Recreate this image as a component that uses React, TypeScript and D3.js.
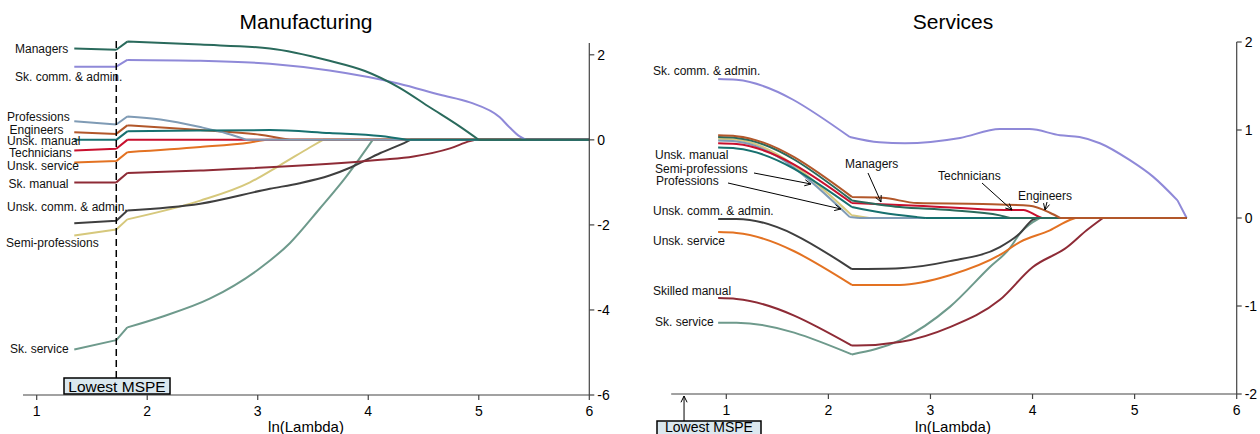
import React from 'react';
import * as d3 from 'd3';

// ---- data: lambda / coefficient pairs ----
const xTicks = [1, 2, 3, 4, 5, 6];
const mfgYTicks = [2, 0, -2, -4, -6];
const svcYTicks = [2, 1, 0, -1, -2];

// Manufacturing
const mfgManagers = [[1.34, 2.15], [1.72, 2.12], [1.82, 2.31], [2.48, 2.24], [3.11, 2.15], [3.65, 1.86], [3.97, 1.62], [4.28, 1.23], [4.56, 0.76], [4.83, 0.31], [5.0, 0], [6, 0]];
const mfgSkComm = [[1.34, 1.72], [1.72, 1.72], [1.82, 1.88], [2.48, 1.86], [3.11, 1.79], [3.65, 1.63], [4.28, 1.32], [4.65, 1.06], [4.92, 0.88], [5.19, 0.53], [5.28, 0.29], [5.37, 0.08], [5.43, 0], [6, 0]];
const mfgProfessions = [[1.34, 0.44], [1.72, 0.36], [1.82, 0.55], [2.12, 0.48], [2.48, 0.3], [2.72, 0.15], [2.9, 0], [6, 0]];
const mfgEngineers = [[1.34, 0.18], [1.72, 0.14], [1.82, 0.34], [2.48, 0.23], [3.02, 0.12], [3.29, 0], [6, 0]];
const mfgUnskManual = [[1.34, 0], [1.72, 0], [1.82, 0.2], [2.48, 0.22], [3.11, 0.23], [3.65, 0.16], [4.11, 0.09], [4.35, 0], [6, 0]];
const mfgTechnicians = [[1.34, -0.25], [1.72, -0.21], [1.82, 0], [6, 0]];
const mfgUnskService = [[1.34, -0.53], [1.72, -0.5], [1.82, -0.29], [2.48, -0.17], [2.93, -0.06], [3.08, 0], [6, 0]];
const mfgSkManual = [[1.34, -1.0], [1.72, -1.0], [1.82, -0.78], [2.48, -0.72], [4.11, -0.47], [4.41, -0.39], [4.74, -0.2], [4.92, -0.03], [4.97, 0], [6, 0]];
const mfgUnskComm = [[1.34, -1.96], [1.72, -1.9], [1.82, -1.66], [2.48, -1.5], [3.11, -1.15], [3.38, -1.02], [3.65, -0.84], [3.84, -0.65], [4.11, -0.31], [4.35, -0.04], [4.38, 0], [6, 0]];
const mfgSemiProf = [[1.34, -2.25], [1.72, -2.11], [1.82, -1.87], [2.48, -1.43], [2.93, -1.0], [3.2, -0.6], [3.47, -0.18], [3.59, 0], [6, 0]];
const mfgSkService = [[1.34, -4.93], [1.72, -4.71], [1.82, -4.41], [2.12, -4.17], [2.57, -3.73], [3.02, -3.02], [3.29, -2.43], [3.56, -1.62], [3.79, -0.9], [4.04, 0], [6, 0]];

// Services
const svcSkComm = [[0.92, 1.58], [1.1, 1.57], [2.21, 0.92], [2.5, 0.86], [2.75, 0.85], [3.29, 0.91], [3.68, 1.01], [3.97, 1.01], [4.27, 0.94], [4.46, 0.92], [4.66, 0.85], [4.95, 0.66], [5.18, 0.47], [5.42, 0.2], [5.51, 0]];
const svcEngineers = [[0.92, 0.94], [1.1, 0.93], [2.23, 0.24], [2.53, 0.23], [2.87, 0.17], [3.51, 0.16], [3.97, 0.14], [4.17, 0.06], [4.27, 0], [5.51, 0]];
const svcManagers = [[0.92, 0.92], [1.1, 0.91], [2.23, 0.2], [2.7, 0.125], [3.19, 0.09], [3.68, 0.03], [3.78, 0], [5.51, 0]];
const svcSemiProf = [[0.92, 0.9], [1.1, 0.89], [2.23, 0.03], [2.4, 0], [5.51, 0]];
const svcProfessions = [[0.92, 0.88], [1.1, 0.87], [2.21, 0.01], [2.3, 0], [5.51, 0]];
const svcTechnicians = [[0.92, 0.85], [1.1, 0.84], [2.23, 0.17], [2.87, 0.14], [3.78, 0.09], [3.91, 0.09], [4.05, 0.02], [4.09, 0], [5.51, 0]];
const svcUnskManual = [[0.92, 0.8], [1.1, 0.79], [2.23, 0.125], [2.53, 0.06], [2.87, 0.01], [2.95, 0], [5.51, 0]];
const svcUnskComm = [[0.92, -0.01], [1.1, -0.01], [2.23, -0.58], [2.7, -0.57], [3.19, -0.49], [3.68, -0.33], [3.88, -0.17], [4.0, -0.02], [4.04, 0], [5.51, 0]];
const svcUnskService = [[0.92, -0.16], [1.1, -0.17], [2.23, -0.76], [2.7, -0.76], [3.19, -0.65], [3.68, -0.42], [3.88, -0.27], [4.17, -0.14], [4.37, -0.02], [4.42, 0], [5.51, 0]];
const svcSkManual = [[0.92, -0.91], [1.1, -0.92], [2.23, -1.45], [2.28, -1.45], [2.7, -1.41], [3.19, -1.24], [3.68, -0.93], [4.0, -0.56], [4.34, -0.33], [4.53, -0.14], [4.69, 0], [5.51, 0]];
const svcSkService = [[0.92, -1.19], [1.1, -1.19], [2.23, -1.55], [2.7, -1.39], [3.19, -1.01], [3.58, -0.56], [3.78, -0.34], [3.88, -0.17], [4.07, 0], [5.51, 0]];

// lambda values where the paths have sharp corners
const mfgBreaks = [1.72, 1.82];
const svcBreaks = [2.21, 2.23, 5.42];

const lowestMspeMfg = 1.72;
const lowestMspeSvc = 0.586;

// colours per occupation
const colors: Record<string, string> = {
  managers: '#2a6a5c',
  skComm: '#8f89d8',
  professions: '#7f9bb5',
  engineers: '#b2572a',
  unskManual: '#17706f',
  technicians: '#c8102e',
  unskService: '#e37222',
  skManual: '#8e2b36',
  unskComm: '#3f3f3f',
  semiProf: '#d6c87c',
  skService: '#6e9a8c',
};

// draw order (bottom first)
const mfgSeries = [
  { key: 'skService', pts: mfgSkService },
  { key: 'semiProf', pts: mfgSemiProf },
  { key: 'unskComm', pts: mfgUnskComm },
  { key: 'skManual', pts: mfgSkManual },
  { key: 'unskService', pts: mfgUnskService },
  { key: 'technicians', pts: mfgTechnicians },
  { key: 'engineers', pts: mfgEngineers },
  { key: 'professions', pts: mfgProfessions },
  { key: 'skComm', pts: mfgSkComm },
  { key: 'unskManual', pts: mfgUnskManual },
  { key: 'managers', pts: mfgManagers },
];
const svcSeries = [
  { key: 'skService', pts: svcSkService },
  { key: 'skManual', pts: svcSkManual },
  { key: 'unskService', pts: svcUnskService },
  { key: 'unskComm', pts: svcUnskComm },
  { key: 'skComm', pts: svcSkComm },
  { key: 'semiProf', pts: svcSemiProf },
  { key: 'professions', pts: svcProfessions },
  { key: 'unskManual', pts: svcUnskManual },
  { key: 'technicians', pts: svcTechnicians },
  { key: 'managers', pts: svcManagers },
  { key: 'engineers', pts: svcEngineers },
];

// label layout (pixels)
const mfgLabels: [string, number, number][] = [
  ['Managers', 15, 49],
  ['Sk. comm. & admin.', 15, 76.5],
  ['Professions', 7, 116.7],
  ['Engineers', 9.5, 129.3],
  ['Unsk. manual', 7, 141],
  ['Technicians', 9, 152.7],
  ['Unsk. service', 7, 165.7],
  ['Sk. manual', 8.5, 183.3],
  ['Unsk. comm. & admin.', 7, 206.7],
  ['Semi-professions', 6, 242.7],
  ['Sk. service', 10, 348.3],
];
const svcLabels: [string, number, number][] = [
  ['Sk. comm. & admin.', 653, 71],
  ['Unsk. manual', 655, 155],
  ['Semi-professions', 655, 168.3],
  ['Professions', 656, 180.7],
  ['Unsk. comm. & admin.', 653, 211],
  ['Unsk. service', 653, 240.7],
  ['Skilled manual', 653, 290.7],
  ['Sk. service', 655, 321.7],
  ['Managers', 845, 163.3],
  ['Technicians', 938, 175.5],
  ['Engineers', 1018, 196],
];
const svcArrows: [number, number, number, number][] = [
  [754, 173, 811, 184],
  [728, 183, 841, 209],
  [868, 173, 881, 202],
  [982, 183, 1012, 210],
  [1047, 202, 1045, 210],
];

const FONT = 'Liberation Sans, Arial, Helvetica, sans-serif';

// split a path into pieces at sharp corners and where it settles on zero
function pieces(pts: number[][], breaks: number[]) {
  let zeroIdx = pts.length - 1;
  while (zeroIdx > 0 && pts[zeroIdx - 1][1] === 0) zeroIdx--;
  const out: number[][][] = [];
  let cur: number[][] = [];
  pts.forEach((p, i) => {
    cur.push(p);
    if (i > 0 && i < pts.length - 1 && (breaks.includes(p[0]) || i === zeroIdx)) {
      out.push(cur);
      cur = [p];
    }
  });
  if (cur.length > 1) out.push(cur);
  return out;
}

function Arrow({ x1, y1, x2, y2 }: { x1: number; y1: number; x2: number; y2: number }) {
  const a = Math.atan2(y2 - y1, x2 - x1);
  const L = 7;
  const h1 = [x2 - L * Math.cos(a - 0.45), y2 - L * Math.sin(a - 0.45)];
  const h2 = [x2 - L * Math.cos(a + 0.45), y2 - L * Math.sin(a + 0.45)];
  return (
    <g stroke="#000" strokeWidth={1} fill="none">
      <line x1={x1} y1={y1} x2={x2} y2={y2} />
      <polyline points={`${h1[0]},${h1[1]} ${x2},${y2} ${h2[0]},${h2[1]}`} />
    </g>
  );
}

function Panel({ x, y, series, yTicks, breaks, xStart, yTop, title, cx }: any) {
  const line = d3.line<number[]>()
    .x(d => x(d[0]))
    .y(d => y(d[1]))
    .curve(d3.curveMonotoneX);
  const yBottom = y.range()[0];
  const axisX = x(6);
  const axisColor = '#444';
  return (
    <g fontFamily={FONT}>
      <text x={cx} y={29} textAnchor="middle" fontSize={21}>{title}</text>
      {series.map((s: any) => (
        <path
          key={s.key}
          d={pieces(s.pts, breaks).map(p => line(p)).join('')}
          fill="none"
          stroke={colors[s.key]}
          strokeWidth={2}
          strokeLinejoin="round"
        />
      ))}
      {/* x axis */}
      <line x1={x(xStart)} x2={axisX} y1={yBottom} y2={yBottom} stroke={axisColor} strokeWidth={1.2} />
      {xTicks.map(t => (
        <g key={t}>
          <line x1={x(t)} x2={x(t)} y1={yBottom} y2={yBottom + 5} stroke={axisColor} strokeWidth={1.2} />
          <text x={x(t)} y={yBottom + 21} textAnchor="middle" fontSize={14}>{t}</text>
        </g>
      ))}
      <text x={cx} y={432} textAnchor="middle" fontSize={15}>ln(Lambda)</text>
      {/* y axis on the right */}
      <line x1={axisX} x2={axisX} y1={yBottom} y2={y(yTop)} stroke={axisColor} strokeWidth={1.2} />
      {yTicks.map((t: number) => (
        <g key={t}>
          <line x1={axisX} x2={axisX + 5} y1={y(t)} y2={y(t)} stroke={axisColor} strokeWidth={1.2} />
          <text x={axisX + 8} y={y(t)} dy="0.35em" fontSize={14}>{t}</text>
        </g>
      ))}
    </g>
  );
}

export default function App() {
  const mfgX = d3.scaleLinear().domain([1, 6]).range([36.7, 589.3]);
  const mfgY = d3.scaleLinear().domain([-6, 2]).range([395, 54.8]);
  const svcX = d3.scaleLinear().domain([1, 6]).range([726.3, 1236.7]);
  const svcY = d3.scaleLinear().domain([-2, 2]).range([394, 42]);

  const dashX = mfgX(lowestMspeMfg);
  const arrX = svcX(lowestMspeSvc);

  return (
    <svg width={1260} height={434} style={{ position: 'absolute', left: 0, top: 0, background: '#fff' }}>
      <Panel x={mfgX} y={mfgY} series={mfgSeries} yTicks={mfgYTicks} breaks={mfgBreaks} xStart={0.876} yTop={2.28} title="Manufacturing" cx={306} />
      <Panel x={svcX} y={svcY} series={svcSeries} yTicks={svcYTicks} breaks={svcBreaks} xStart={0.46} yTop={2} title="Services" cx={953} />

      <g fontFamily={FONT} fontSize={12} fill="#111">
        {mfgLabels.map(([t, lx, ly]) => (
          <text key={'m' + t} x={lx} y={ly} dy="0.35em">{t}</text>
        ))}
        {svcLabels.map(([t, lx, ly]) => (
          <text key={'s' + t} x={lx} y={ly} dy="0.35em">{t}</text>
        ))}
      </g>
      {svcArrows.map((a, i) => (
        <Arrow key={i} x1={a[0]} y1={a[1]} x2={a[2]} y2={a[3]} />
      ))}

      {/* lowest MSPE markers */}
      <line x1={dashX} x2={dashX} y1={41} y2={378} stroke="#000" strokeWidth={1.5} strokeDasharray="7,4" />
      <rect x={64} y={378} width={106} height={16} fill="#dbe8ef" stroke="#000" strokeWidth={1.5} />
      <text x={117} y={392} textAnchor="middle" fontFamily={FONT} fontSize={15.5}>Lowest MSPE</text>

      <Arrow x1={arrX} y1={421} x2={arrX} y2={396} />
      <rect x={657} y={421} width={104} height={16} fill="#dbe8ef" stroke="#000" strokeWidth={1.5} />
      <text x={709} y={432} textAnchor="middle" fontFamily={FONT} fontSize={14}>Lowest MSPE</text>
    </svg>
  );
}
